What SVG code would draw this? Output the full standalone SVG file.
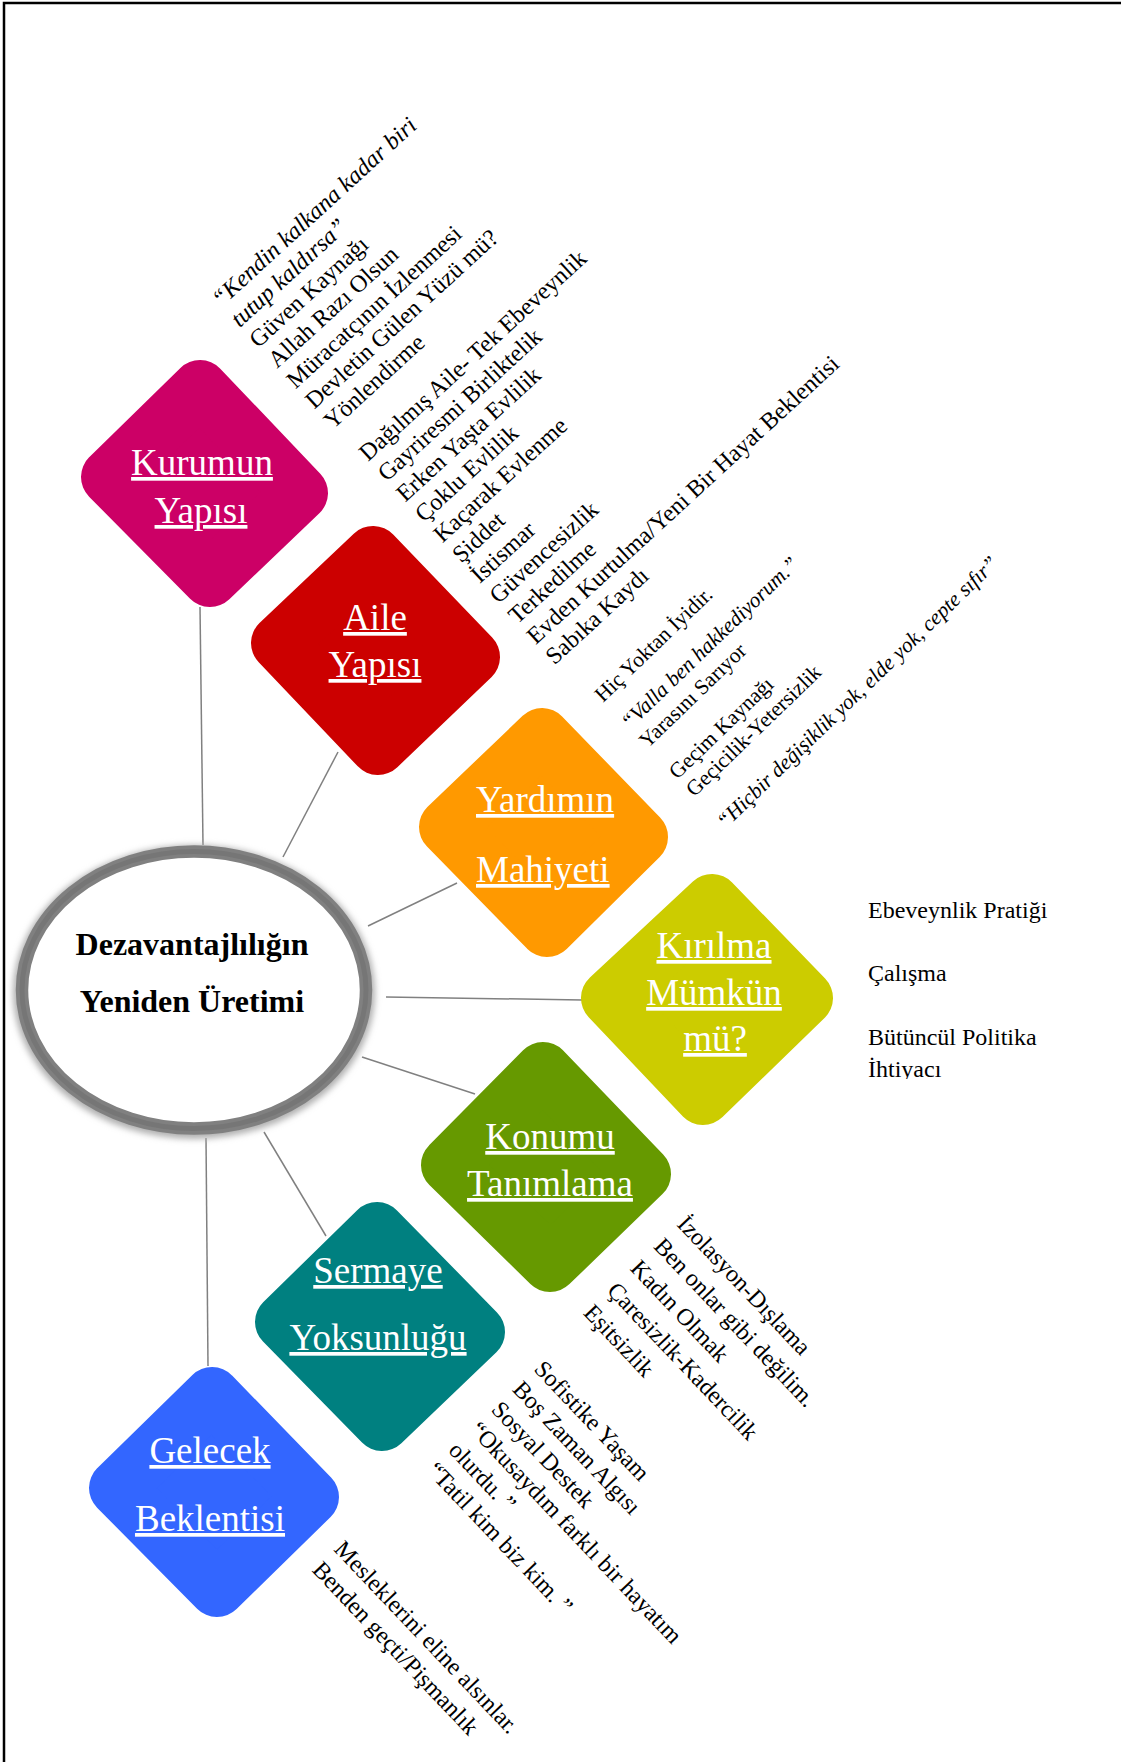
<svg xmlns="http://www.w3.org/2000/svg" width="1121" height="1762" viewBox="0 0 1121 1762">
<style>
.frame{fill:none;stroke:#000;stroke-width:2.5}
.conn line{stroke:#808080;stroke-width:1.5}
.dia{stroke-width:56;stroke-linejoin:round}
.c1{fill:#CC0066;stroke:#CC0066}
.c2{fill:#CC0000;stroke:#CC0000}
.c3{fill:#FF9900;stroke:#FF9900}
.c4{fill:#CCCC00;stroke:#CCCC00}
.c5{fill:#669900;stroke:#669900}
.c6{fill:#008080;stroke:#008080}
.c7{fill:#3366FF;stroke:#3366FF}
.lbl{font-family:"Liberation Serif","Times New Roman",serif;font-size:37px;fill:#fff;text-decoration:underline;text-anchor:middle}
.t{font-family:"Liberation Serif","Times New Roman",serif;font-size:24px;fill:#000}
.s{font-size:21.5px}
.i{font-style:italic}
.title{font-family:"Liberation Serif","Times New Roman",serif;font-size:32px;font-weight:bold;fill:#000;text-anchor:middle}
</style>
<defs>
<filter id="sh" x="-20%" y="-20%" width="140%" height="140%">
<feGaussianBlur stdDeviation="3"/>
</filter>
<clipPath id="clipK"><rect x="850" y="880" width="271" height="199"/></clipPath>
</defs>
<rect x="0" y="0" width="1121" height="1762" fill="#fff"/>
<path class="frame" d="M4,1762 V3 H1121"/>

<g id="connectors" class="conn">
<line x1="200" y1="607" x2="203" y2="845"/>
<line x1="338" y1="752" x2="283" y2="857"/>
<line x1="457" y1="883" x2="368" y2="926"/>
<line x1="386" y1="997" x2="582" y2="1000"/>
<line x1="362" y1="1057" x2="475" y2="1094"/>
<line x1="264" y1="1132" x2="326" y2="1236"/>
<line x1="206" y1="1138" x2="208" y2="1366"/>
</g>

<g id="center">
<ellipse cx="194" cy="992" rx="173" ry="139" fill="none" stroke="#b0b0b0" stroke-width="16" filter="url(#sh)"/>
<ellipse cx="194" cy="990" rx="172" ry="138.5" fill="#fff" stroke="#808080" stroke-width="12.5"/>
<ellipse cx="194" cy="990" rx="172" ry="138.5" fill="none" stroke="#767676" stroke-width="5"/>
<text class="title" x="192" y="955">Dezavantajlılığın</text>
<text class="title" x="192" y="1012">Yeniden Üretimi</text>
</g>

<g id="kurumun">
<polygon class="dia c1" points="200,388 300,493 210,579 109,477"/>
<text class="lbl" x="202" y="475">Kurumun</text>
<text class="lbl" x="201" y="523">Yapısı</text>
</g>
<g id="aile">
<polygon class="dia c2" points="373,554 472,657 378,747 279,643"/>
<text class="lbl" x="375" y="630">Aile</text>
<text class="lbl" x="375" y="677">Yapısı</text>
</g>
<g id="yardim">
<polygon class="dia c3" points="542,736 640,837 547,929 447,827"/>
<text class="lbl" x="476" y="812" style="text-anchor:start">Yardımın</text>
<text class="lbl" x="476" y="882" style="text-anchor:start">Mahiyeti</text>
</g>
<g id="kirilma">
<polygon class="dia c4" points="712,902 805,998 703,1097 609,998"/>
<text class="lbl" x="714" y="958">Kırılma</text>
<text class="lbl" x="714" y="1005">Mümkün</text>
<text class="lbl" x="715" y="1051">mü?</text>
</g>
<g id="konumu">
<polygon class="dia c5" points="543,1070 643,1174 550,1264 449,1165"/>
<text class="lbl" x="550" y="1149">Konumu</text>
<text class="lbl" x="550" y="1196">Tanımlama</text>
</g>
<g id="sermaye">
<polygon class="dia c6" points="377,1230 477,1332 382,1423 283,1322"/>
<text class="lbl" x="378" y="1283">Sermaye</text>
<text class="lbl" x="378" y="1350">Yoksunluğu</text>
</g>
<g id="gelecek">
<polygon class="dia c7" points="212,1395 311,1497 217,1589 117,1488"/>
<text class="lbl" x="210" y="1463">Gelecek</text>
<text class="lbl" x="210" y="1531">Beklentisi</text>
</g>

<g id="texts-kurum" class="t" transform="translate(221,308) rotate(-42.5)">
<text class="i" x="0" y="0">“Kendin kalkana kadar biri</text>
<text class="i" x="0" y="27.6">tutup kaldırsa”</text>
<text x="0" y="55.2">Güven Kaynağı</text>
<text x="0" y="82.8">Allah Razı Olsun</text>
<text x="0" y="110.4">Müracatçının İzlenmesi</text>
<text x="0" y="138">Devletin Gülen Yüzü mü?</text>
<text x="0" y="165.6">Yönlendirme</text>
</g>

<g id="texts-aile" class="t" transform="translate(368,462) rotate(-42.5)">
<text x="0" y="0">Dağılmış Aile- Tek Ebeveynlik</text>
<text x="0" y="27.6">Gayriresmi Birliktelik</text>
<text x="0" y="55.2">Erken Yaşta Evlilik</text>
<text x="0" y="82.8">Çoklu Evlilik</text>
<text x="0" y="110.4">Kaçarak Evlenme</text>
<text x="0" y="138">Şiddet</text>
<text x="0" y="165.6">İstismar</text>
<text x="0" y="193.2">Güvencesizlik</text>
<text x="0" y="220.8">Terkedilme</text>
<text x="0" y="248.4">Evden Kurtulma/Yeni Bir Hayat Beklentisi</text>
<text x="0" y="276">Sabıka Kaydı</text>
</g>

<g id="texts-yardim" class="t s" transform="translate(603,703) rotate(-44)">
<text x="0" y="0">Hiç Yoktan İyidir.</text>
<text class="i" x="0" y="38">“Valla ben hakkediyorum.”</text>
<text x="0" y="64">Yarasını Sarıyor</text>
<text x="0" y="107">Geçim Kaynağı</text>
<text x="0" y="131.5">Geçicilik-Yetersizlik</text>
<text class="i" x="0" y="176">“Hiçbir değişiklik yok, elde yok, cepte sıfır”</text>
</g>

<g id="texts-kirilma" class="t" clip-path="url(#clipK)">
<text x="868" y="918">Ebeveynlik Pratiği</text>
<text x="868" y="981">Çalışma</text>
<text x="868" y="1045">Bütüncül Politika</text>
<text x="868" y="1077">İhtiyacı</text>
</g>

<g id="texts-konum" class="t" transform="translate(676,1225) rotate(46.5)">
<text x="0" y="0">İzolasyon-Dışlama</text>
<text x="0" y="32.2">Ben onlar gibi değilim.</text>
<text x="0" y="64.4">Kadın Olmak</text>
<text x="0" y="96.6">Çaresizlik-Kadercilik</text>
<text x="0" y="128.8">Eşitsizlik</text>
</g>

<g id="texts-sermaye" class="t" transform="translate(533,1370) rotate(46.5)">
<text x="0" y="0">Sofistike Yaşam</text>
<text x="0" y="29.5">Boş Zaman Algısı</text>
<text x="0" y="59">Sosyal Destek</text>
<text x="0" y="88.5">“Okusaydım farklı bir hayatım</text>
<text x="0" y="118">olurdu. ”</text>
<text x="0" y="147.5">“Tatil kim biz kim. ”</text>
</g>

<g id="texts-gelecek" class="t" transform="translate(333,1550) rotate(46.5)">
<text x="0" y="0">Mesleklerini eline alsınlar.</text>
<text x="0" y="30">Benden geçti/Pişmanlık</text>
</g>
</svg>
